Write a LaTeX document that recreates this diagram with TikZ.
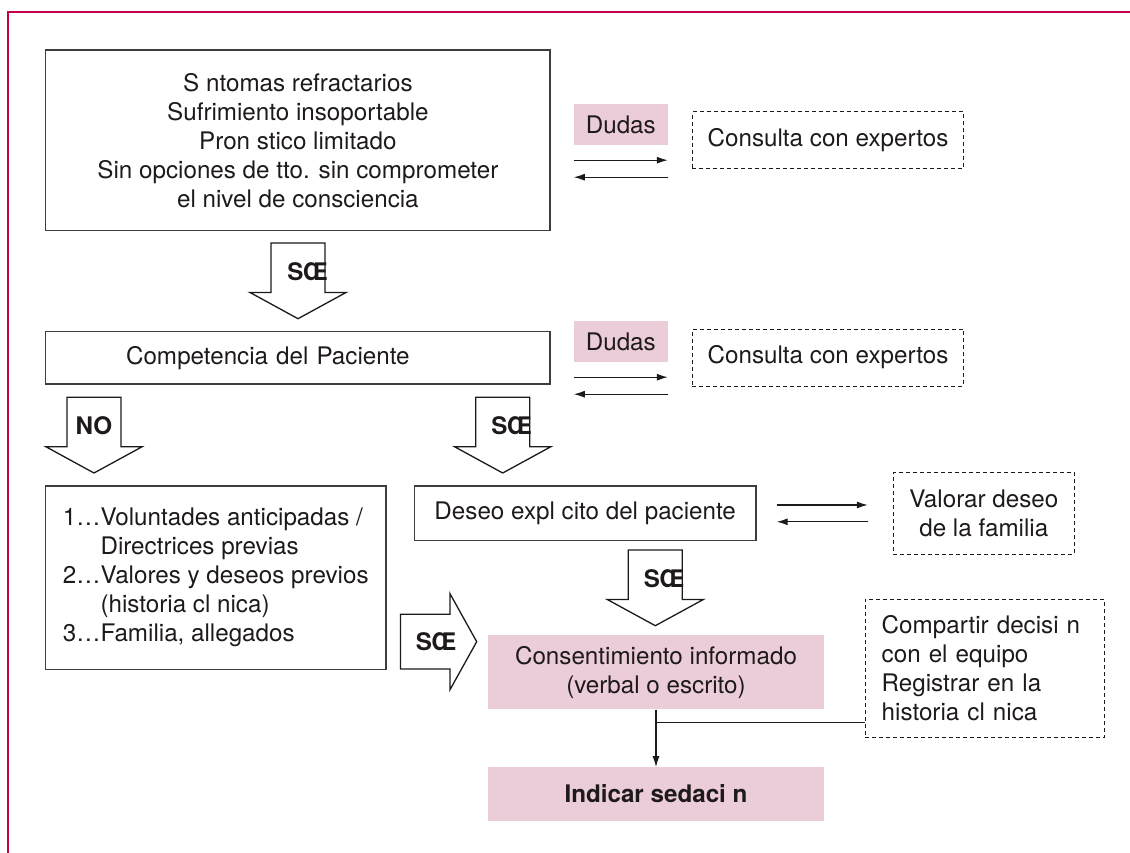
\documentclass[tikz,border=0pt]{standalone}
\usepackage{fontspec}
\setmainfont{TeX Gyre Heros}
\usetikzlibrary{arrows.meta,positioning}
\definecolor{marco}{RGB}{196,0,74}
\definecolor{rosa}{RGB}{235,204,217}
\definecolor{tinta}{RGB}{30,26,27}

\begin{document}
\begin{tikzpicture}[x=1pt,y=-1pt,>={Latex[length=11pt,width=7pt]},
		font=\fontsize{24.2}{29}\selectfont,text=tinta,
		caja/.style={draw=tinta!85,line width=1.3pt,inner sep=0pt,align=center},
		cajarosa/.style={fill=rosa,inner sep=0pt,align=center},
		consulta/.style={draw=tinta,line width=1pt,dash pattern=on 4pt off 3pt,inner sep=0pt,align=center},
		flecha/.style={draw=tinta,line width=1.3pt,fill=white},
		rotulo/.style={font=\fontsize{24.2}{29}\selectfont\bfseries},
		conector/.style={draw=tinta,line width=1.1pt}]

		\useasboundingbox (0,0) rectangle (1130,853);
		\draw[marco,line width=2pt] (1130,12.3) -- (8.3,12.3) -- (8.3,853);

		\node[caja,minimum width=504.3pt,minimum height=180.7pt] (sintomas) at (297.9,140.3)
			{S ntomas refractarios\\Sufrimiento insoportable\\Pron stico limitado\\Sin opciones de tto. sin comprometer\\el nivel de consciencia};
		\node[caja,minimum width=504.3pt,minimum height=52.3pt,text width=504.3pt,align=left] (competencia) at (297.9,357.9)
			{\hspace*{80.3pt}Competencia del Paciente};

		\node[cajarosa,minimum width=93.6pt,minimum height=41pt] (dudasA) at (620.8,124.5) {Dudas};
		\node[consulta,minimum width=271.2pt,minimum height=57pt] (consultaA) at (828,140.5) {Consulta con expertos};
		\node[cajarosa,minimum width=93.6pt,minimum height=41pt] (dudasB) [node distance=217pt,below of=dudasA] {Dudas};
		\node[consulta,minimum width=271.2pt,minimum height=57pt] (consultaB) [node distance=217pt,below of=consultaA] {Consulta con expertos};

		\node[caja,minimum width=340.5pt,minimum height=183.3pt,align=left] (directrices) at (215.75,577.7)
			{1…Voluntades anticipadas /\\\phantom{1…}Directrices previas\\2…Valores y deseos previos\\\phantom{2…}(historia cl nica)\\3…Familia, allegados};
		\node[caja,minimum width=341.7pt,minimum height=54.7pt] (deseo) at (585.2,513.4) {Deseo expl cito del paciente};
		\node[consulta,minimum width=181pt,minimum height=81.6pt] (valorar) at (983.8,513.4) {Valorar deseo\\de la familia};

		\node[cajarosa,minimum width=335.5pt,minimum height=74.3pt] (consentimiento) at (656,672.2)
			{Consentimiento informado\\(verbal o escrito)};
		\node[cajarosa,minimum width=335.5pt,minimum height=53.4pt,rotulo] (indicar) at (656,794) {Indicar sedaci n};
		\node[consulta,minimum width=239pt,minimum height=138.7pt,text width=205.6pt,inner xsep=16.7pt,align=left] (compartir) at (984.5,668.4)
			{Compartir decisi n\\con el equipo\\Registrar en la\\historia cl nica};

		% flechas grandes
		\foreach \cx/\ty/\lab/\lx [count=\i] in
			{298/243/SŒ/307.5, 94/397.3/NO/94, 502.7/397.3/SŒ/511.5, 655.3/550/SŒ/664}{
			\draw[flecha] (\cx-27,\ty) -- (\cx+27,\ty) -- (\cx+27,\ty+49.5) -- (\cx+48,\ty+49.5)
				-- (\cx,\ty+75.7) -- (\cx-48,\ty+49.5) -- (\cx-27,\ty+49.5) -- cycle;
			\node[rotulo] (paso\i) at (\lx,\ty+28.5) {\lab};
		}
		\draw[flecha] (400.5,614.3) -- (450,614.3) -- (450,593.7) -- (476.7,641.7) -- (450,689.7)
			-- (450,669) -- (400.5,669) -- cycle;
		\node[rotulo] (paso5) at (436,641.5) {SŒ};

		\path
		([yshift=-15pt]dudasA.south west) edge[conector,->] ([yshift=-15pt]dudasA.south east)
		([yshift=-32pt]dudasA.south east) edge[conector,->] ([yshift=-32pt]dudasA.south west)
		([yshift=-15pt]dudasB.south west) edge[conector,->] ([yshift=-15pt]dudasB.south east)
		([yshift=-32pt]dudasB.south east) edge[conector,->] ([yshift=-32pt]dudasB.south west)
		([xshift=20pt,yshift=8.4pt]deseo.east) edge[conector,->] ([xshift=-25pt,yshift=8.4pt]valorar.west)
		([xshift=-25pt,yshift=-8.4pt]valorar.west) edge[conector,->] ([xshift=20pt,yshift=-8.4pt]deseo.east)
		(consentimiento.south) edge[conector,->] (indicar.north);

		\coordinate (reparto) at (656,722.5);
		\draw[conector] (reparto) -- (reparto -| compartir.west);
\end{tikzpicture}
\end{document}
